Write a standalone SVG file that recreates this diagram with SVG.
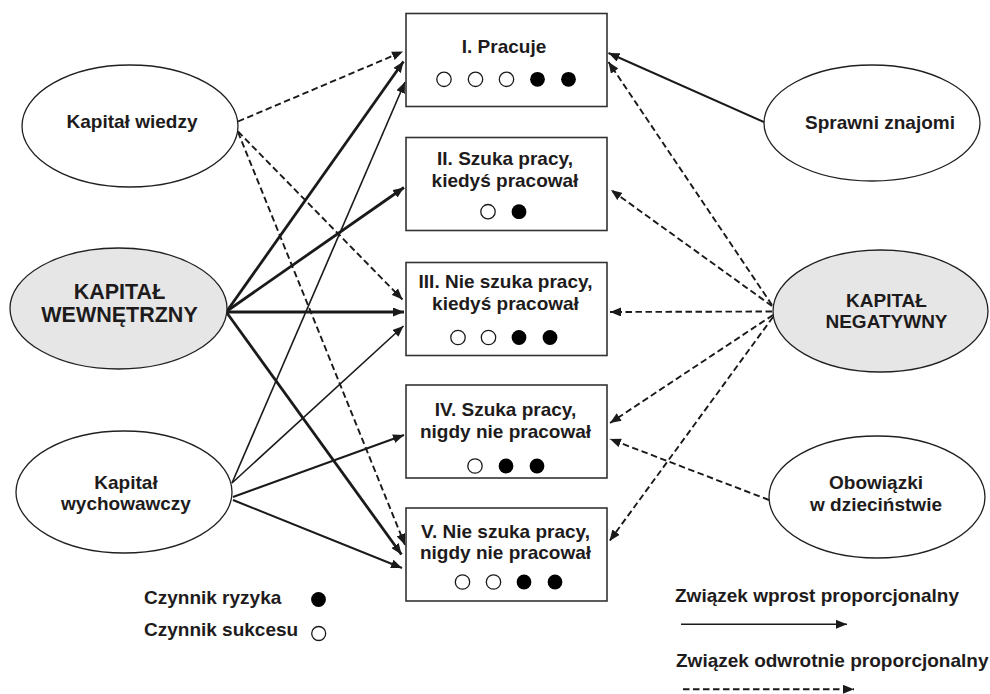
<svg xmlns="http://www.w3.org/2000/svg" width="990" height="694" viewBox="0 0 990 694">
<defs>
<style>
text{font-family:"Liberation Sans",Arial,sans-serif;font-weight:bold;font-size:19px;fill:#1e1b1c;text-anchor:middle}
.big{font-size:21.5px}
.lg{text-anchor:start}
.ell{fill:#fff;stroke:#231f20;stroke-width:1.3}
.gray{fill:#e6e6e6}
.box{fill:#fff;stroke:#333;stroke-width:1.6}
.c{stroke:#1a1a1a;stroke-width:1.6;fill:none;marker-end:url(#ah)}
.thick{stroke-width:2.8}
.mid{stroke-width:2}
.dash{stroke-dasharray:6.5 3.5;stroke-width:1.9}
.o{fill:#fff;stroke:#1a1a1a;stroke-width:1.3}
.f{fill:#000}
</style>
<marker id="ah" viewBox="0 0 11 9" refX="11" refY="4.5" markerWidth="11" markerHeight="9" markerUnits="userSpaceOnUse" orient="auto">
<path d="M0,0 L11,4.5 L0,9 z" fill="#1a1a1a"/>
</marker>
</defs>
<rect width="990" height="694" fill="#fff"/>

<g id="connectors">
<line class="c thick" x1="227" y1="311" x2="403.5" y2="61.5"/>
<line class="c thick" x1="227" y1="311" x2="404" y2="187.5"/>
<line class="c thick" x1="227" y1="312" x2="404" y2="312"/>
<line class="c thick" x1="227" y1="313" x2="401.5" y2="554.5"/>
<line class="c" x1="232" y1="483" x2="405" y2="82"/>
<line class="c" x1="232" y1="483" x2="403.5" y2="326"/>
<line class="c mid" x1="233" y1="497" x2="404" y2="435"/>
<line class="c mid" x1="233" y1="500" x2="402" y2="568"/>
<line class="c dash" x1="238" y1="121.5" x2="403" y2="51.5"/>
<line class="c dash" x1="238" y1="131.5" x2="402.5" y2="299.5"/>
<line class="c dash" x1="238" y1="132" x2="405" y2="545"/>
<line class="c mid" x1="764" y1="122" x2="608.5" y2="53"/>
<line class="c dash" x1="772" y1="305" x2="608.5" y2="62"/>
<line class="c dash" x1="772" y1="306" x2="611" y2="190"/>
<line class="c dash" x1="772" y1="311.5" x2="610" y2="312"/>
<line class="c dash" x1="773" y1="315" x2="610" y2="423"/>
<line class="c dash" x1="773" y1="317" x2="609.5" y2="541"/>
<line class="c dash" x1="769" y1="500" x2="610" y2="439"/>
</g>

<g id="kapital-wiedzy">
<ellipse class="ell" cx="130" cy="126" rx="108" ry="61"/>
<text x="132" y="128">Kapitał wiedzy</text>
</g>
<g id="kapital-wewnetrzny">
<ellipse class="ell gray" cx="118.5" cy="308.5" rx="108.5" ry="60.5"/>
<text class="big" x="119.5" y="298.5">KAPITAŁ</text>
<text class="big" x="119.5" y="321.5">WEWNĘTRZNY</text>
</g>
<g id="kapital-wychowawczy">
<ellipse class="ell" cx="124" cy="492" rx="108" ry="61"/>
<text x="126" y="488.5">Kapitał</text>
<text x="126" y="509.5">wychowawczy</text>
</g>
<g id="sprawni-znajomi">
<ellipse class="ell" cx="872" cy="123" rx="108" ry="58"/>
<text x="880" y="129">Sprawni znajomi</text>
</g>
<g id="kapital-negatywny">
<ellipse class="ell gray" cx="880.5" cy="311" rx="107.5" ry="61"/>
<text x="886.5" y="306.5">KAPITAŁ</text>
<text x="886.5" y="327.5">NEGATYWNY</text>
</g>
<g id="obowiazki">
<ellipse class="ell" cx="877" cy="497" rx="108" ry="61"/>
<text x="876" y="488.5">Obowiązki</text>
<text x="876" y="510.5">w dzieciństwie</text>
</g>

<g id="box-1">
<rect class="box" x="406" y="13.5" width="201" height="93"/>
<text x="504" y="52.5">I. Pracuje</text>
<circle class="o" cx="444" cy="79.3" r="7.2"/>
<circle class="o" cx="475.5" cy="79.3" r="7.2"/>
<circle class="o" cx="506.5" cy="79.3" r="7.2"/>
<circle class="f" cx="537.5" cy="79.3" r="7.4"/>
<circle class="f" cx="568.5" cy="79.3" r="7.4"/>
</g>
<g id="box-2">
<rect class="box" x="406" y="137.5" width="201" height="93"/>
<text x="505" y="165">II. Szuka pracy,</text>
<text x="505" y="186.7">kiedyś pracował</text>
<circle class="o" cx="488" cy="211.7" r="7.2"/>
<circle class="f" cx="519" cy="211.7" r="7.4"/>
</g>
<g id="box-3">
<rect class="box" x="406" y="262.5" width="201" height="93"/>
<text x="505.5" y="287.5">III. Nie szuka pracy,</text>
<text x="505.5" y="309.5">kiedyś pracował</text>
<circle class="o" cx="458" cy="337.5" r="7.2"/>
<circle class="o" cx="488.5" cy="337.5" r="7.2"/>
<circle class="f" cx="519" cy="337.5" r="7.4"/>
<circle class="f" cx="550" cy="337.5" r="7.4"/>
</g>
<g id="box-4">
<rect class="box" x="406" y="385" width="201" height="93"/>
<text x="505.5" y="415.5">IV. Szuka pracy,</text>
<text x="505.5" y="437.5">nigdy nie pracował</text>
<circle class="o" cx="475" cy="466" r="7.2"/>
<circle class="f" cx="506" cy="466" r="7.4"/>
<circle class="f" cx="537" cy="466" r="7.4"/>
</g>
<g id="box-5">
<rect class="box" x="406" y="508" width="201" height="93"/>
<text x="505.5" y="537.5">V. Nie szuka pracy,</text>
<text x="505.5" y="559">nigdy nie pracował</text>
<circle class="o" cx="462.5" cy="582" r="7.2"/>
<circle class="o" cx="493.5" cy="582" r="7.2"/>
<circle class="f" cx="524" cy="582" r="7.4"/>
<circle class="f" cx="555" cy="582" r="7.4"/>
</g>

<g id="legend">
<text class="lg" x="144" y="604">Czynnik ryzyka</text>
<circle class="f" cx="318.5" cy="599.5" r="7.4"/>
<text class="lg" x="144" y="636">Czynnik sukcesu</text>
<circle class="o" cx="318.7" cy="633.5" r="7"/>
<text class="lg" x="675" y="601.5">Związek wprost proporcjonalny</text>
<line class="c" x1="681" y1="624.3" x2="847" y2="624.3"/>
<text class="lg" x="676" y="666.5">Związek odwrotnie proporcjonalny</text>
<line class="c dash" x1="683" y1="689.3" x2="854" y2="689.3"/>
</g>
</svg>
